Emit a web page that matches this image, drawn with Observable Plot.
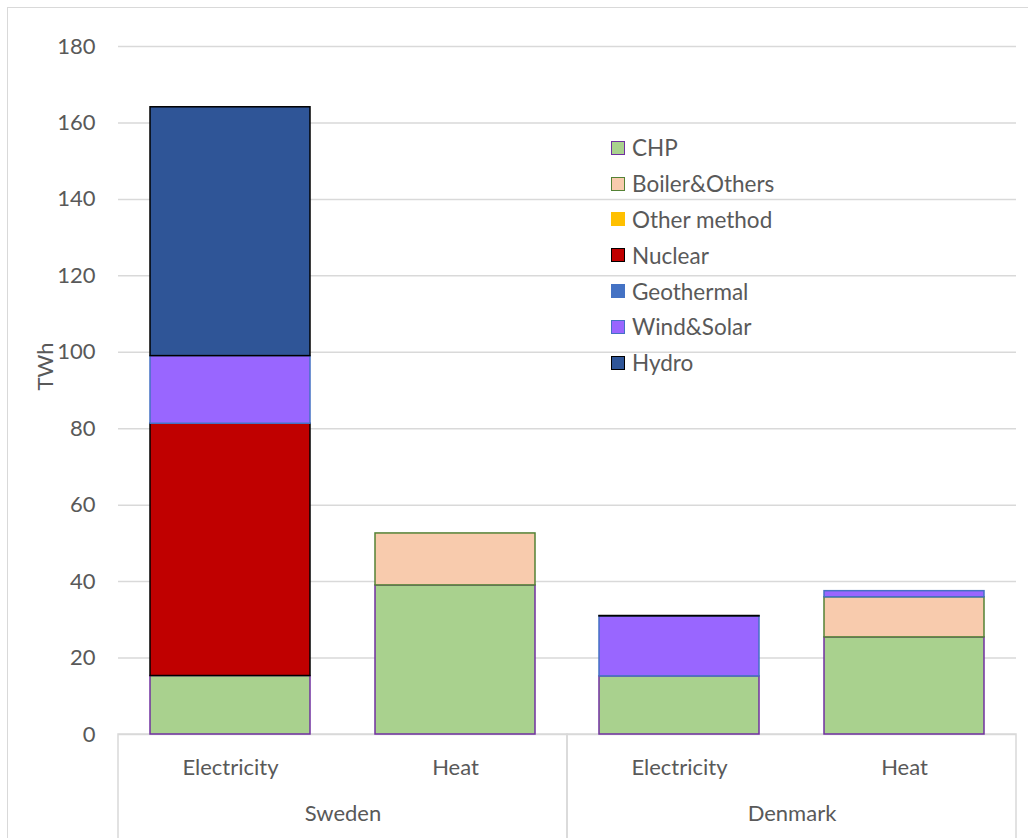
<!DOCTYPE html>
<html>
<head>
<meta charset="utf-8">
<script src="https://cdn.jsdelivr.net/npm/d3@7"></script>
<script src="https://cdn.jsdelivr.net/npm/@observablehq/plot@0.6"></script>
<style>
  html, body { margin: 0; padding: 0; background: #fff; overflow: hidden; }
  #wrap { position: relative; width: 1028px; height: 838px; }
  #wrap svg { overflow: hidden; display: block; }
  #border { position: absolute; left: 7px; top: 7px; width: 1200px; height: 1000px; border: 1.5px solid #d9d9d9; box-sizing: border-box; pointer-events: none; }
  #legend { position: absolute; left: 611px; top: 130px; font-family: Lato, sans-serif; font-size: 22.5px; color: #595959; }
  .item { height: 35.8px; display: flex; align-items: center; }
  .sw { width: 14px; height: 14px; box-sizing: border-box; margin-right: 7px; }
</style>
</head>
<body>
<div id="wrap"><div id="border"></div><div id="legend"></div></div>
<script>
const countries = ["Sweden", "Denmark"];
const types = ["Electricity", "Heat"];
const seriesNames = ["CHP", "Boiler&Others", "Other method", "Nuclear", "Geothermal", "Wind&Solar", "Hydro"];
// values per category: [Sweden Electricity, Sweden Heat, Denmark Electricity, Denmark Heat]
const chp        = [15.3, 39.0, 15.2, 25.4];
const boiler     = [0,    13.6, 0,    10.5];
const otherMethod= [0,    0,    0,    0];
const nuclear    = [66.0, 0,    0,    0];
const geothermal = [0,    0,    0,    0];
const windSolar  = [17.7, 0,    15.7, 1.6];
const hydro      = [65.1, 0,    0.1,  0];
const yTicks = [0, 20, 40, 60, 80, 100, 120, 140, 160, 180];

const seriesValues = [chp, boiler, otherMethod, nuclear, geothermal, windSolar, hydro];
const fills   = ["#A9D18E", "#F8CBAD", "#FFC000", "#C00000", "#4472C4", "#9966FF", "#2F5597"];
const strokes = ["#7030A0", "#548235", "#FFC000", "#000000", "#4472C4", "#4472C4", "#000000"];

const cats = [];
countries.forEach(c => types.forEach(t => cats.push({country: c, type: t})));

const rows = [];
seriesNames.forEach((s, si) => {
  cats.forEach((cat, ci) => {
    const v = seriesValues[si][ci];
    if (v > 0) rows.push({country: cat.country, type: cat.type, series: s, value: v, fill: fills[si], stroke: strokes[si]});
  });
});

const textColor = "#595959";

const plot = Plot.plot({
  width: 1028,
  height: 838,
  marginLeft: 118,
  marginRight: 12,
  marginTop: 46,
  marginBottom: 104,
  style: { fontFamily: "Lato, sans-serif", fontSize: "22px", color: textColor, background: "transparent" },
  fx: { domain: countries, padding: 0, axis: null },
  x: { domain: types, paddingInner: 0.29, paddingOuter: 0.142, axis: null },
  y: { domain: [0, 180], ticks: yTicks, tickSize: 0, tickPadding: 23, label: null },
  color: { type: "identity" },
  marks: [
    Plot.ruleY(yTicks, { y: d => d, stroke: "#d9d9d9", strokeWidth: 1.5 }),
    Plot.rect(countries, { fx: d => d, y1: () => 0, y2: () => -30, fill: "none", stroke: "#d9d9d9", strokeWidth: 1.5 }),
    Plot.barY(rows, Plot.stackY({
      fx: "country", x: "type", y: "value", z: "series",
      fill: "fill", stroke: "stroke", strokeWidth: 1.5
    })),
    Plot.text(cats, { fx: "country", x: "type", text: "type", frameAnchor: "bottom", dy: 40, fill: textColor }),
    Plot.text(countries, { fx: d => d, text: d => d, frameAnchor: "bottom", dy: 86, fill: textColor }),
    Plot.text([{c: "Sweden"}], { fx: "c", text: () => "TWh", frameAnchor: "left", rotate: -90, dx: -73, fill: textColor })
  ]
});
document.getElementById("wrap").prepend(plot);

const legend = document.getElementById("legend");
seriesNames.forEach((s, i) => {
  const item = document.createElement("div");
  item.className = "item";
  const sw = document.createElement("div");
  sw.className = "sw";
  sw.style.background = fills[i];
  sw.style.border = "1.5px solid " + strokes[i];
  const lab = document.createElement("span");
  lab.textContent = s;
  item.appendChild(sw);
  item.appendChild(lab);
  legend.appendChild(item);
});
</script>
</body>
</html>
